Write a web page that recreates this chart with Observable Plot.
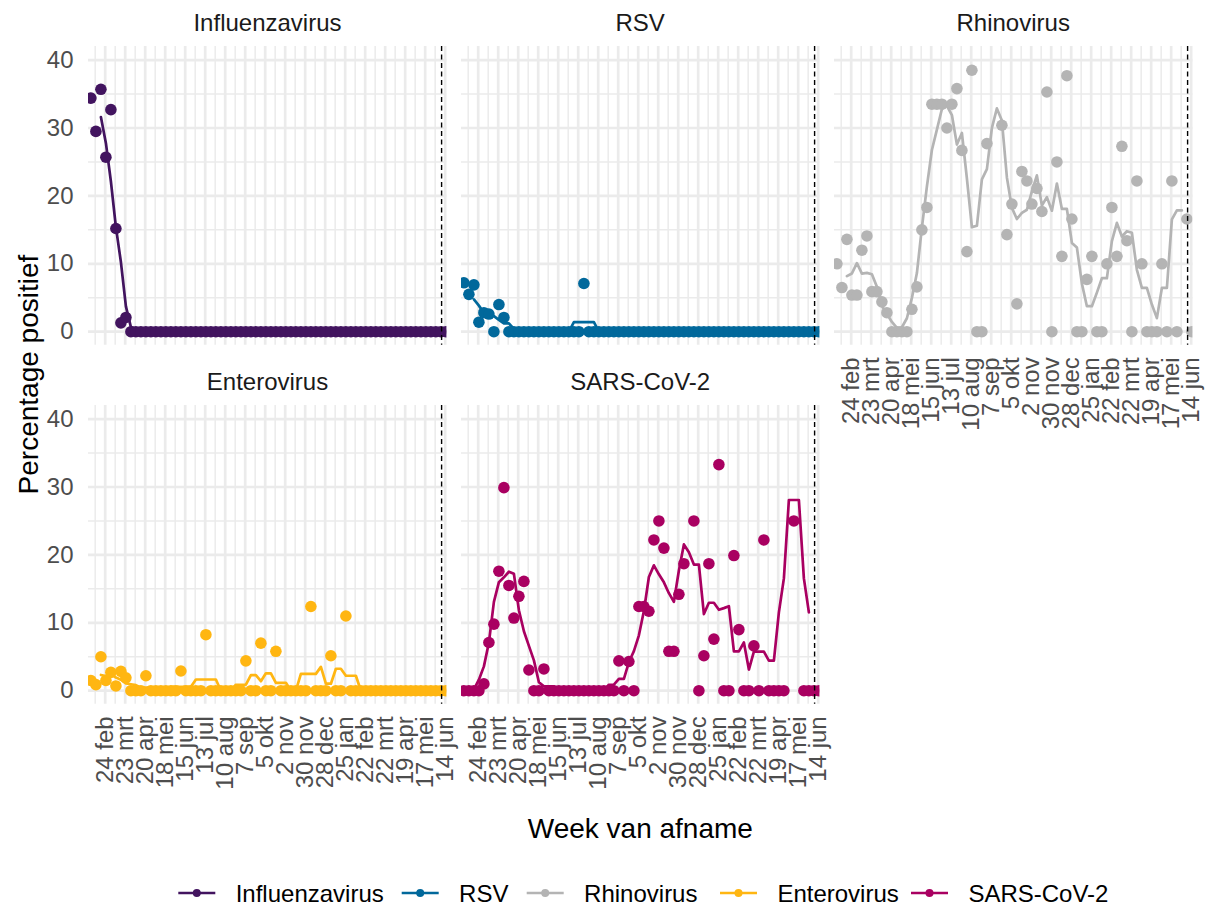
<!DOCTYPE html>
<html lang="nl">
<head>
<meta charset="utf-8">
<title>Percentage positief per week van afname</title>
<script src="https://cdn.jsdelivr.net/npm/d3@7"></script>
<script src="https://cdn.jsdelivr.net/npm/@observablehq/plot@0.6"></script>
<style>
  html, body { margin: 0; padding: 0; background: #ffffff; }
  #chart { position: relative; width: 1210px; height: 907px; background: #ffffff; overflow: hidden;
           font-family: "Liberation Sans", Arial, Helvetica, sans-serif; }
  #chart > svg { position: absolute; }
</style>
</head>
<body>
<div id="chart"></div>
<script>
// ---------------- data ----------------
const firstWeek = "2020-02-04";       // first week of sampling, then weekly
const referenceDate = "2021-06-09";   // dashed vertical line

const tickDates = ["2020-02-24","2020-03-23","2020-04-20","2020-05-18","2020-06-15","2020-07-13",
  "2020-08-10","2020-09-07","2020-10-05","2020-11-02","2020-11-30","2020-12-28",
  "2021-01-25","2021-02-22","2021-03-22","2021-04-19","2021-05-17","2021-06-14"];
const tickLabels = ["24 feb","23 mrt","20 apr","18 mei","15 jun","13 jul","10 aug","7 sep","5 okt",
  "2 nov","30 nov","28 dec","25 jan","22 feb","22 mrt","19 apr","17 mei","14 jun"];
const yTicks = [0, 10, 20, 30, 40];
const yMinorTicks = [5, 15, 25, 35];

const virusNames = ["Influenzavirus", "RSV", "Rhinovirus", "Enterovirus", "SARS-CoV-2"];

// weekly percentage positive (72 weeks); values above the axis limit are clipped in the chart
const influenza = [34.4,29.5,35.7,25.7,32.7,15.2,1.3,2.1,0,0,
  0,0,0,0,0,0,0,0,0,0, 0,0,0,0,0,0,0,0,0,0, 0,0,0,0,0,0,0,0,0,0,
  0,0,0,0,0,0,0,0,0,0, 0,0,0,0,0,0,0,0,0,0, 0,0,0,0,0,0,0,0,0,0, 0,0];
const rsv = [7.2,5.5,6.9,1.4,2.8,2.6,0,4.0,2.1,0,
  0,0,0,0,0,0,0,0,0,0, 0,0,0,0,7.1,0,0,0,0,0, 0,0,0,0,0,0,0,0,0,0,
  0,0,0,0,0,0,0,0,0,0, 0,0,0,0,0,0,0,0,0,0, 0,0,0,0,0,0,0,0,0,0, 0,0];
const rhinovirus = [10.0,6.5,13.6,5.4,5.4,12.0,14.1,5.9,5.9,4.4,
  2.8,0,0,0,0,3.3,6.6,15.0,18.3,33.5,
  33.5,33.5,30.0,33.5,35.8,26.7,11.8,38.5,0,0,
  27.7,46,46,30.4,14.3,18.8,4.1,23.6,22.2,18.8,
  21.1,17.7,35.3,0,25.0,11.1,37.7,16.6,0,0,
  7.7,11.1,0,0,10.0,18.3,11.1,27.3,13.4,0,
  22.2,10.0,0,0,0,10.0,0,22.2,0,50.5,
  16.6,0];
const enterovirus = [1.5,0.9,5.0,1.5,2.7,0.7,2.85,1.9,0,0,
  0,2.2,0,0,0,0,0,0,2.9,0,
  0,0,0,8.25,0,0,0,0,0,0,
  0,4.4,0,0,7.0,0,0,5.8,0,0,
  0,0,0,0,12.4,0,0,0,5.15,0,
  0,11.0,0,0,0,0,0,0,0,0,
  0,0,0,0,0,0,0,0,0,0,
  0,0];
const sarsCoV2 = [0,0,0,0,1.0,7.1,9.8,17.6,29.9,15.5,
  10.7,13.9,16.1,3.05,0,0,3.2,0,0,0,
  0,0,0,0,0,0,0,0,0,0,
  0,4.4,0,4.3,0,12.4,12.4,11.7,22.2,25.0,
  21.0,5.8,5.8,14.2,18.7,44,25.0,0,5.15,18.7,
  7.6,33.3,0,0,19.9,9.0,0,0,6.6,0,
  22.2,0,0,0,0,57.7,25.0,57.7,0,0,
  0,0];

const seriesValues = [influenza, rsv, rhinovirus, enterovirus, sarsCoV2];
const palette = ["#42145F", "#01689B", "#B4B4B4", "#FFB612", "#A90061"];

// ---------------- layout ----------------
const PANEL_W = 358.4, PANEL_H = 298.8;
const colX = [88.3, 461, 834];
const rowY = [45.5, 404.8];
const panelPos = [
  {col: 0, row: 0, xAxis: false},
  {col: 1, row: 0, xAxis: false},
  {col: 2, row: 0, xAxis: true},
  {col: 0, row: 1, xAxis: true},
  {col: 1, row: 1, xAxis: true}
];
const xDomain = [new Date("2020-01-31T15:20:00Z"), new Date("2021-06-16T09:40:00Z")];
const FONT = '"Liberation Sans", Arial, Helvetica, sans-serif';

const weeks = d3.range(influenza.length).map(i => d3.utcDay.offset(new Date(firstWeek), 7 * i));
const majorX = tickDates.map(d => new Date(d));
const minorX = majorX.map(d => d3.utcDay.offset(d, -14));
const labelByTime = new Map(majorX.map((d, i) => [+d, tickLabels[i]]));
const vline = [new Date(referenceDate)];

const chart = document.getElementById("chart");

virusNames.forEach((name, k) => {
  const pos = panelPos[k];
  const color = palette[k];
  const showY = pos.col === 0;
  const mL = showY ? 70 : 6, mR = 6, mT = 6, mB = pos.xAxis ? 120 : 6;
  const data = weeks.map((d, i) => ({date: d, value: seriesValues[k][i]}));

  const svg = Plot.plot({
    width: PANEL_W + mL + mR,
    height: PANEL_H + mT + mB,
    marginLeft: mL, marginRight: mR, marginTop: mT, marginBottom: mB,
    style: {background: "transparent", color: "#4D4D4D", fontSize: "24px", fontFamily: FONT, overflow: "visible"},
    x: {type: "utc", domain: xDomain, axis: null, label: null},
    y: {domain: [-2, 42], axis: null, label: null},
    marks: [
      Plot.ruleX(minorX, {stroke: "#EBEBEB", strokeWidth: 1.5}),
      Plot.ruleY(yMinorTicks, {stroke: "#EBEBEB", strokeWidth: 1.5}),
      Plot.ruleX(majorX, {stroke: "#EBEBEB", strokeWidth: 2.7}),
      Plot.ruleY(yTicks, {stroke: "#EBEBEB", strokeWidth: 2.7}),
      Plot.lineY(data, Plot.windowY(
        {k: 5, anchor: "middle", reduce: "mean", strict: true},
        {x: "date", y: "value", stroke: color, strokeWidth: 2.7, clip: true})),
      Plot.dot(data, {x: "date", y: "value", r: 5.8, fill: color, stroke: "none", clip: true}),
      Plot.ruleX(vline, {stroke: "#000000", strokeWidth: 1.4, strokeDasharray: "5,3.5"}),
      showY ? Plot.axisY(yTicks, {tickSize: 0, tickPadding: 15, fill: "#4D4D4D", label: null}) : null,
      pos.xAxis ? Plot.axisX(majorX, {tickSize: 0, tickPadding: 12, tickRotate: -90, fill: "#4D4D4D",
        label: null, tickFormat: d => labelByTime.get(+d)}) : null
    ]
  });
  svg.style.left = (colX[pos.col] - mL) + "px";
  svg.style.top = (rowY[pos.row] - mT) + "px";
  chart.appendChild(svg);
});

// ---------------- strip labels, axis titles, legend ----------------
const ov = d3.create("svg")
  .attr("width", 1210).attr("height", 907)
  .style("left", "0px").style("top", "0px")
  .attr("font-family", FONT);

virusNames.forEach((name, k) => {
  const pos = panelPos[k];
  ov.append("text")
    .attr("x", colX[pos.col] + PANEL_W / 2)
    .attr("y", rowY[pos.row] - 14.5)
    .attr("text-anchor", "middle")
    .attr("font-size", 24)
    .attr("fill", "#1A1A1A")
    .text(name);
});

ov.append("text")
  .attr("transform", `translate(38,${(rowY[0] + rowY[1] + PANEL_H) / 2}) rotate(-90)`)
  .attr("text-anchor", "middle").attr("font-size", 28).attr("fill", "#000000")
  .text("Percentage positief");

ov.append("text")
  .attr("x", (colX[0] + colX[2] + PANEL_W) / 2).attr("y", 838)
  .attr("text-anchor", "middle").attr("font-size", 28).attr("fill", "#000000")
  .text("Week van afname");

const legendX = [178.3, 401.7, 526.7, 720, 911];
virusNames.forEach((name, k) => {
  const g = ov.append("g").attr("transform", `translate(${legendX[k]},893)`);
  g.append("line").attr("x1", 0).attr("x2", 37).attr("y1", 0).attr("y2", 0)
    .attr("stroke", palette[k]).attr("stroke-width", 2.6);
  g.append("circle").attr("cx", 18.5).attr("cy", 0).attr("r", 4).attr("fill", palette[k]);
  g.append("text").attr("x", 57.4).attr("y", 8.7).attr("font-size", 24).attr("fill", "#000000").text(name);
});

chart.appendChild(ov.node());
</script>
</body>
</html>
